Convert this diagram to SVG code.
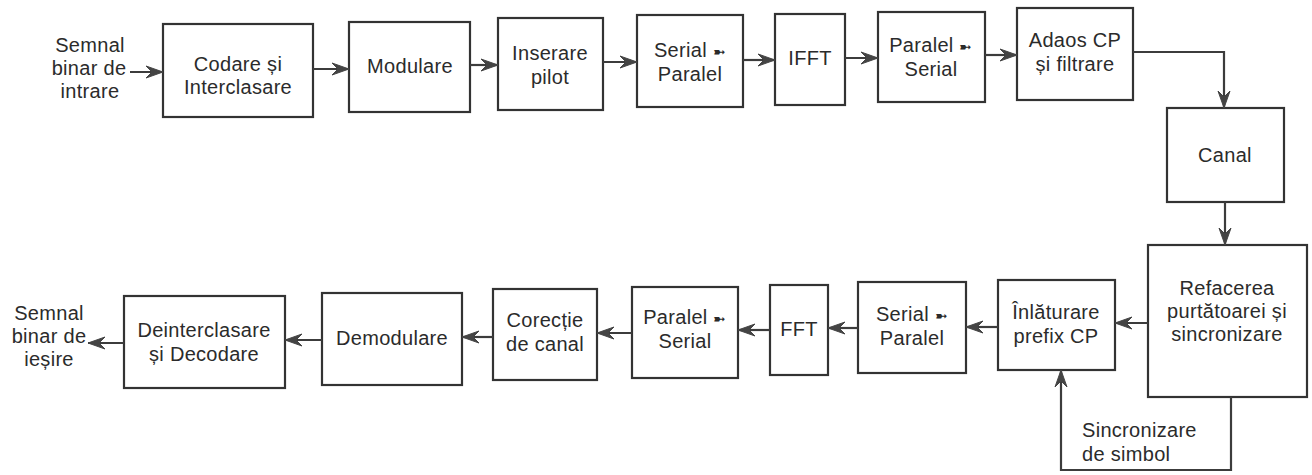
<svg xmlns="http://www.w3.org/2000/svg" width="1312" height="475" viewBox="0 0 1312 475">
<defs>
<marker id="ah" markerUnits="userSpaceOnUse" markerWidth="18" markerHeight="14" viewBox="0 0 18 14" refX="17" refY="7" orient="auto">
<path d="M0,1 L17,7 L0,13 L6,7 z" fill="#444" stroke="#444" stroke-width="1"/>
</marker>
<style>
.b{fill:#fff;stroke:#333;stroke-width:2.2}
.t{font-family:"Liberation Sans",Arial,sans-serif;font-size:20px;fill:#2b2b2b;text-anchor:middle;letter-spacing:0.3px}
.l{text-anchor:start}
.s{font-size:15px}
.c{fill:none;stroke:#3c3c3c;stroke-width:2.2;marker-end:url(#ah)}
</style>
</defs>
<rect width="1312" height="475" fill="#fff"/>
<g id="in-label"><text class="t" x="90" y="52">Semnal</text><text class="t" x="89" y="75">binar de</text><text class="t" x="90" y="98">intrare</text></g>
<g id="codare"><rect class="b" x="163" y="24" width="150" height="93"/><text class="t" x="238" y="71">Codare și</text><text class="t" x="238" y="94">Interclasare</text></g>
<g id="modulare"><rect class="b" x="349" y="22" width="121" height="90"/><text class="t" x="410" y="73">Modulare</text></g>
<g id="inserare"><rect class="b" x="498" y="18" width="105" height="92"/><text class="t" x="550" y="60">Inserare</text><text class="t" x="550" y="84">pilot</text></g>
<g id="s2p"><rect class="b" x="637" y="15" width="106" height="92"/><text class="t" x="690" y="57">Serial <tspan class="s">➼</tspan></text><text class="t" x="690" y="81">Paralel</text></g>
<g id="ifft"><rect class="b" x="775" y="14" width="70" height="91"/><text class="t" x="810" y="65">IFFT</text></g>
<g id="p2s"><rect class="b" x="878" y="12" width="107" height="90"/><text class="t" x="931" y="52">Paralel <tspan class="s">➼</tspan></text><text class="t" x="931" y="76">Serial</text></g>
<g id="adaos"><rect class="b" x="1017" y="8" width="116" height="92"/><text class="t" x="1075" y="47">Adaos CP</text><text class="t" x="1075" y="71">și filtrare</text></g>
<g id="canal"><rect class="b" x="1167" y="108" width="117" height="94"/><text class="t" x="1225" y="162">Canal</text></g>
<g id="refacerea"><rect class="b" x="1148" y="245" width="159" height="152"/><text class="t" x="1227" y="295">Refacerea</text><text class="t" x="1227" y="318">purtătoarei și</text><text class="t" x="1227" y="341">sincronizare</text></g>
<g id="inlaturare"><rect class="b" x="998" y="280" width="117" height="90"/><text class="t" x="1056" y="319">Înlăturare</text><text class="t" x="1056" y="343">prefix CP</text></g>
<g id="s2p2"><rect class="b" x="858" y="282" width="108" height="91"/><text class="t" x="912" y="321">Serial <tspan class="s">➼</tspan></text><text class="t" x="912" y="345">Paralel</text></g>
<g id="fft"><rect class="b" x="770" y="285" width="58" height="90"/><text class="t" x="799" y="336">FFT</text></g>
<g id="p2s2"><rect class="b" x="632" y="287" width="106" height="91"/><text class="t" x="685" y="324">Paralel <tspan class="s">➼</tspan></text><text class="t" x="685" y="348">Serial</text></g>
<g id="corectie"><rect class="b" x="493" y="289" width="104" height="91"/><text class="t" x="545" y="327">Corecție</text><text class="t" x="545" y="351">de canal</text></g>
<g id="demodulare"><rect class="b" x="322" y="293" width="140" height="92"/><text class="t" x="392" y="345">Demodulare</text></g>
<g id="deint"><rect class="b" x="124" y="296" width="161" height="92"/><text class="t" x="204" y="337">Deinterclasare</text><text class="t" x="204" y="361">și Decodare</text></g>
<g id="out-label"><text class="t" x="49" y="320">Semnal</text><text class="t" x="49" y="343">binar de</text><text class="t" x="49" y="366">ieșire</text></g>
<g id="sync-label"><text class="t l" x="1082" y="437">Sincronizare</text><text class="t l" x="1082" y="461">de simbol</text></g>
<g id="connectors">
<path class="c" d="M130,72 H163"/>
<path class="c" d="M313,69 H349"/>
<path class="c" d="M470,65 H498"/>
<path class="c" d="M603,62 H637"/>
<path class="c" d="M743,60 H775"/>
<path class="c" d="M845,58 H878"/>
<path class="c" d="M985,55 H1017"/>
<path class="c" d="M1133,52 H1224 V108"/>
<path class="c" d="M1225,202 V245"/>
<path class="c" d="M1148,323 H1115"/>
<path class="c" d="M998,327 H966"/>
<path class="c" d="M858,328 H828"/>
<path class="c" d="M770,330 H738"/>
<path class="c" d="M632,333 H597"/>
<path class="c" d="M493,337 H462"/>
<path class="c" d="M322,340 H285"/>
<path class="c" d="M124,343 H88"/>
<path class="c" d="M1231,397 V470 H1061 V370"/>
</g>
</svg>
